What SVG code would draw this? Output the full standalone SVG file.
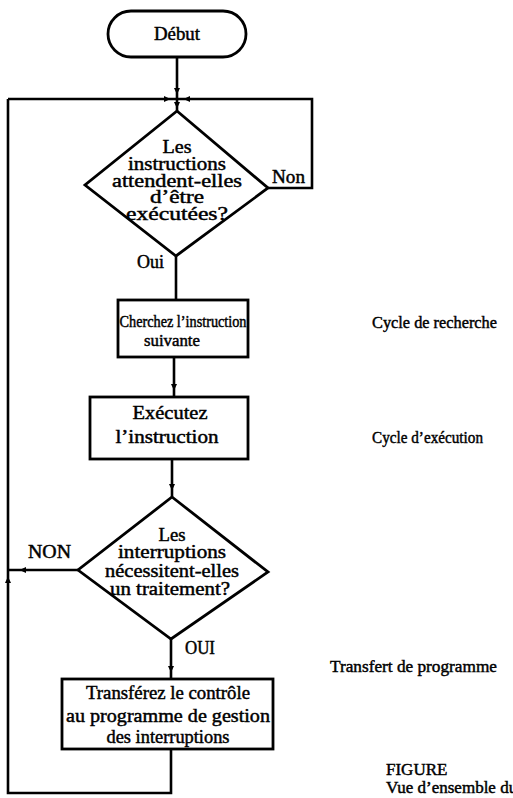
<svg xmlns="http://www.w3.org/2000/svg" width="513" height="798" viewBox="0 0 513 798">
  <defs>
    <style>
      .shape { fill: none; stroke: #000; stroke-width: 2.8; stroke-linejoin: miter; }
      .wire { fill: none; stroke: #000; stroke-width: 2.6; }
      .t { font-family: "Liberation Serif", "Times New Roman", serif; font-size: 18px; fill: #000; stroke: #000; stroke-width: 0.45; }
      .s { font-size: 17px; }
      .m { font-size: 16px; }
      .c { text-anchor: middle; }
    </style>
    <!-- small mid-line arrow tip, pointing down by default -->
    <path id="tip" d="M-3,-4 L3,-4 L0,2.5 Z" fill="#000"/>
  </defs>

  <rect width="513" height="798" fill="#fff"/>

  <!-- connectors -->
  <g id="connectors">
    <path class="wire" d="M177 57 V111"/>
    <path class="wire" d="M8 99 H312 V188 H268"/>
    <path class="wire" d="M176 256 V300"/>
    <path class="wire" d="M174 357 V397"/>
    <path class="wire" d="M172 459 V497"/>
    <path class="wire" d="M171 639 V679"/>
    <path class="wire" d="M171 749 V793 H8 V99"/>
    <path class="wire" d="M78 570 H8"/>
    <use href="#tip" transform="translate(177,92)"/>
    <use href="#tip" transform="translate(168,99) rotate(-90)"/>
    <use href="#tip" transform="translate(186,99) rotate(90)"/>
    <use href="#tip" transform="translate(177,106)"/>
    <use href="#tip" transform="translate(174,388)"/>
    <use href="#tip" transform="translate(172,488)"/>
    <use href="#tip" transform="translate(171,670)"/>
    <use href="#tip" transform="translate(22,570) rotate(90)"/>
    <use href="#tip" transform="translate(8,579) rotate(180)"/>
  </g>

  <!-- start terminal -->
  <g id="debut">
    <rect class="shape" x="108" y="11" width="138" height="46" rx="23"/>
    <text class="t c" x="177" y="40" textLength="46" lengthAdjust="spacingAndGlyphs">Début</text>
  </g>

  <!-- decision: instructions waiting -->
  <g id="decision-instructions">
    <polygon class="shape" points="177,111 268,188 176,256 85,185"/>
    <text class="t c" x="177" y="153" textLength="29" lengthAdjust="spacingAndGlyphs">Les</text>
    <text class="t c" x="177" y="170" textLength="98" lengthAdjust="spacingAndGlyphs">instructions</text>
    <text class="t c" x="177" y="187" textLength="130" lengthAdjust="spacingAndGlyphs">attendent-elles</text>
    <text class="t c" x="177" y="203" textLength="54" lengthAdjust="spacingAndGlyphs">d’être</text>
    <text class="t c" x="177" y="220" textLength="102" lengthAdjust="spacingAndGlyphs">exécutées?</text>
    <text class="t" x="272" y="183" textLength="33" lengthAdjust="spacingAndGlyphs">Non</text>
    <text class="t" x="137" y="268" textLength="27" lengthAdjust="spacingAndGlyphs">Oui</text>
  </g>

  <!-- fetch -->
  <g id="fetch">
    <rect class="shape" x="118" y="300" width="130" height="57"/>
    <text class="t m c" x="183" y="327" textLength="127" lengthAdjust="spacingAndGlyphs">Cherchez l’instruction</text>
    <text class="t m c" x="172" y="346" textLength="56" lengthAdjust="spacingAndGlyphs">suivante</text>
  </g>

  <!-- execute -->
  <g id="execute">
    <rect class="shape" x="90" y="397" width="158" height="62"/>
    <text class="t c" x="170" y="419" textLength="75" lengthAdjust="spacingAndGlyphs">Exécutez</text>
    <text class="t c" x="167" y="443" textLength="103" lengthAdjust="spacingAndGlyphs">l’instruction</text>
  </g>

  <!-- decision: interrupts -->
  <g id="decision-interrupts">
    <polygon class="shape" points="172,497 268,572 171,639 78,570"/>
    <text class="t c" x="172" y="541" textLength="27" lengthAdjust="spacingAndGlyphs">Les</text>
    <text class="t c" x="172" y="558" textLength="108" lengthAdjust="spacingAndGlyphs">interruptions</text>
    <text class="t c" x="172" y="577" textLength="134" lengthAdjust="spacingAndGlyphs">nécessitent-elles</text>
    <text class="t c" x="170" y="595" textLength="120" lengthAdjust="spacingAndGlyphs">un traitement?</text>
    <text class="t" x="28" y="558" textLength="43" lengthAdjust="spacingAndGlyphs">NON</text>
    <text class="t" x="185" y="654" textLength="30" lengthAdjust="spacingAndGlyphs">OUI</text>
  </g>

  <!-- interrupt handler transfer -->
  <g id="transfer">
    <rect class="shape" x="62" y="679" width="211" height="70"/>
    <text class="t c" x="168" y="699" textLength="164" lengthAdjust="spacingAndGlyphs">Transférez le contrôle</text>
    <text class="t c" x="168" y="722" textLength="204" lengthAdjust="spacingAndGlyphs">au programme de gestion</text>
    <text class="t c" x="168" y="743" textLength="123" lengthAdjust="spacingAndGlyphs">des interruptions</text>
  </g>

  <!-- side labels and caption -->
  <g id="labels">
    <text class="t s" x="372" y="328" textLength="125" lengthAdjust="spacingAndGlyphs">Cycle de recherche</text>
    <text class="t s" x="372" y="443" textLength="111" lengthAdjust="spacingAndGlyphs">Cycle d’exécution</text>
    <text class="t s" x="330" y="672" textLength="167" lengthAdjust="spacingAndGlyphs">Transfert de programme</text>
    <text class="t s" x="386" y="775">FIGURE</text>
    <text class="t s" x="386" y="793">Vue d’ensemble du</text>
  </g>
</svg>
